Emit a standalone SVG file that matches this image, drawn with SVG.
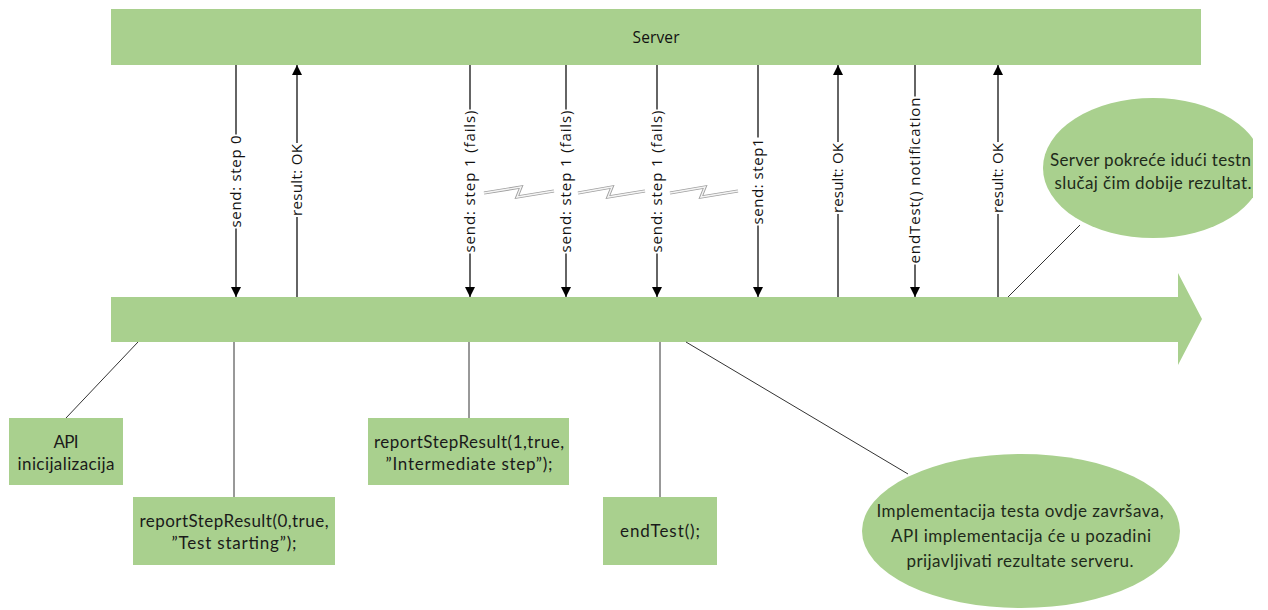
<svg xmlns="http://www.w3.org/2000/svg" width="1268" height="610" viewBox="0 0 1268 610">
<style>
.g{fill:#a9d08e}
.ln{stroke:#111;stroke-width:1.3;fill:none}
.thin{stroke:#333;stroke-width:1;fill:none}
.lbl{font-family:"Open Sans","DejaVu Sans",sans-serif;font-size:15px;fill:#111;text-anchor:middle}
.bx{font-family:Lato,"Open Sans",sans-serif;font-size:17px;fill:#1a1a1a;text-anchor:middle}
.el{font-family:Lato,"Open Sans",sans-serif;font-size:17px;fill:#1e2a1a;text-anchor:middle}
.bolt{stroke:#a0a0a0;stroke-width:3.2;fill:none;stroke-linejoin:miter}
.bolti{stroke:#f4f4f4;stroke-width:1.4;fill:none;stroke-linejoin:miter}
</style>
<defs>
<marker id="ah" viewBox="0 0 10 10" refX="10" refY="5" markerWidth="10" markerHeight="10" markerUnits="userSpaceOnUse" orient="auto">
<path d="M0,0 L10,5 L0,10 z" fill="#000"/>
</marker>
<clipPath id="crop"><rect x="0" y="0" width="1253" height="610"/></clipPath>
</defs>
<rect width="1268" height="610" fill="#fff"/>

<g id="server">
<rect class="g" x="111" y="9" width="1090" height="56"/>
<text x="656" y="43" font-family="'Open Sans','DejaVu Sans',sans-serif" font-size="15.5" fill="#111" text-anchor="middle" textLength="47">Server</text>
</g>

<g id="timeline">
<path class="g" d="M111,297 H1178 V273 L1202,319 L1178,365 V342 H111 Z"/>
</g>

<g id="connectors">
<line class="ln" x1="236" y1="65" x2="236" y2="297" marker-end="url(#ah)"/>
<line class="ln" x1="297" y1="297" x2="297" y2="65" marker-end="url(#ah)"/>
<line class="ln" x1="470" y1="65" x2="470" y2="297" marker-end="url(#ah)"/>
<line class="ln" x1="566" y1="65" x2="566" y2="297" marker-end="url(#ah)"/>
<line class="ln" x1="657" y1="65" x2="657" y2="297" marker-end="url(#ah)"/>
<line class="ln" x1="758" y1="65" x2="758" y2="297" marker-end="url(#ah)"/>
<line class="ln" x1="838" y1="297" x2="838" y2="65" marker-end="url(#ah)"/>
<line class="ln" x1="915" y1="65" x2="915" y2="297" marker-end="url(#ah)"/>
<line class="ln" x1="998" y1="297" x2="998" y2="65" marker-end="url(#ah)"/>

<g id="bolts">
<polyline class="bolt" points="484,193 521,187 517,197 554,191"/>
<polyline class="bolti" points="484,193 521,187 517,197 554,191"/>
<polyline class="bolt" points="578,193 612,187 608,197 645,191"/>
<polyline class="bolti" points="578,193 612,187 608,197 645,191"/>
<polyline class="bolt" points="670,193 705,187 701,197 738,191"/>
<polyline class="bolti" points="670,193 705,187 701,197 738,191"/>
</g>

<g id="labels">
<g transform="translate(236,181.5) rotate(-90)"><rect x="-47" y="-9" width="94" height="18" fill="#fff"/><text class="lbl" y="5" textLength="92">send: step 0</text></g>
<g transform="translate(297,180) rotate(-90)"><rect x="-37" y="-9" width="74" height="18" fill="#fff"/><text class="lbl" y="5" textLength="72">result: OK</text></g>
<g transform="translate(470,181.5) rotate(-90)"><rect x="-72" y="-9" width="144" height="18" fill="#fff"/><text class="lbl" y="5" textLength="142">send: step 1 (fails)</text></g>
<g transform="translate(566,181.5) rotate(-90)"><rect x="-72" y="-9" width="144" height="18" fill="#fff"/><text class="lbl" y="5" textLength="142">send: step 1 (fails)</text></g>
<g transform="translate(657,181.5) rotate(-90)"><rect x="-72" y="-9" width="144" height="18" fill="#fff"/><text class="lbl" y="5" textLength="142">send: step 1 (fails)</text></g>
<g transform="translate(758,181.5) rotate(-90)"><rect x="-44" y="-9" width="88" height="18" fill="#fff"/><text class="lbl" y="5" textLength="86">send: step1</text></g>
<g transform="translate(838,178) rotate(-90)"><rect x="-36" y="-9" width="72" height="18" fill="#fff"/><text class="lbl" y="5" textLength="70">result: OK</text></g>
<g transform="translate(915,180.5) rotate(-90)"><rect x="-84" y="-9" width="168" height="18" fill="#fff"/><text class="lbl" y="5" textLength="166">endTest() notification</text></g>
<g transform="translate(998,178) rotate(-90)"><rect x="-36" y="-9" width="72" height="18" fill="#fff"/><text class="lbl" y="5" textLength="70">result: OK</text></g>
</g>

<line class="thin" x1="138" y1="342" x2="66" y2="418"/>
<line class="thin" x1="234" y1="342" x2="234" y2="497"/>
<line class="thin" x1="469" y1="342" x2="469" y2="418"/>
<line class="thin" x1="660" y1="342" x2="660" y2="497"/>
<line class="thin" x1="686" y1="342" x2="908" y2="474"/>
<line class="thin" x1="1008" y1="297" x2="1080" y2="225"/>
</g>

<g id="api-init">
<rect class="g" x="9" y="418" width="114" height="67"/>
<text class="bx" x="66" y="448" textLength="25">API</text>
<text class="bx" x="66" y="470" textLength="97">inicijalizacija</text>
</g>

<g id="report-step0">
<rect class="g" x="133" y="497" width="202" height="68"/>
<text class="bx" x="234" y="527" textLength="189">reportStepResult(0,true,</text>
<text class="bx" x="234" y="549" textLength="125">”Test starting”);</text>
</g>

<g id="report-step1">
<rect class="g" x="368" y="418" width="201" height="67"/>
<text class="bx" x="469" y="448" textLength="190">reportStepResult(1,true,</text>
<text class="bx" x="469" y="470" textLength="167">”Intermediate step”);</text>
</g>

<g id="endtest">
<rect class="g" x="603" y="497" width="114" height="68"/>
<text class="bx" x="660" y="537" textLength="80">endTest();</text>
</g>

<g id="impl-note">
<ellipse class="g" cx="1021" cy="531" rx="159" ry="77"/>
<text class="el" x="1020" y="517" textLength="287">Implementacija testa ovdje završava,</text>
<text class="el" x="1021" y="542" textLength="260">API implementacija će u pozadini</text>
<text class="el" x="1020" y="567" textLength="227">prijavljivati rezultate serveru.</text>
</g>

<g id="server-note" clip-path="url(#crop)">
<ellipse class="g" cx="1153" cy="168" rx="110" ry="70"/>
<text class="el" x="1050" y="166" style="text-anchor:start" textLength="201">Server pokreće idući testn</text>
<text class="el" x="1153" y="189" textLength="197">slučaj čim dobije rezultat.</text>
</g>
</svg>
